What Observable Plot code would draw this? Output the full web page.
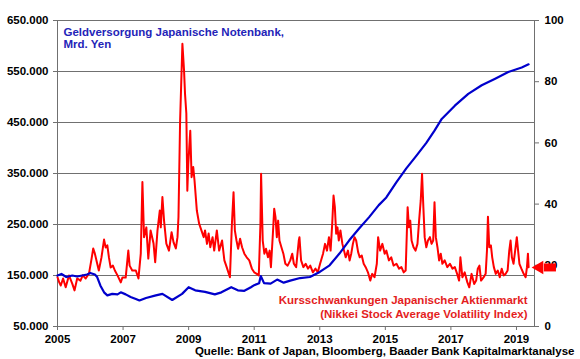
<!DOCTYPE html>
<html><head><meta charset="utf-8">
<script src="https://cdn.jsdelivr.net/npm/d3@7"></script>
<script src="https://cdn.jsdelivr.net/npm/@observablehq/plot@0.6"></script>
<style>
body{margin:0;background:#fff;}
#chart svg{font-family:"Liberation Sans",Arial,sans-serif;}
</style></head><body><div id="chart"></div>
<script>
// Geldversorgung (monetary base), Mrd. Yen — left axis
const baseYears = [2005.00,2005.12,2005.27,2005.45,2005.60,2005.75,2005.90,2006.00,2006.14,2006.21,2006.31,2006.42,2006.52,2006.67,2006.83,2006.93,2007.08,2007.23,2007.39,2007.50,2007.70,2008.00,2008.20,2008.50,2008.80,2009.00,2009.20,2009.50,2009.80,2010.00,2010.30,2010.50,2010.70,2010.90,2011.00,2011.15,2011.20,2011.30,2011.50,2011.70,2011.90,2012.10,2012.40,2012.70,2013.00,2013.30,2013.60,2013.90,2014.20,2014.50,2014.80,2015.03,2015.34,2015.64,2015.95,2016.25,2016.50,2016.72,2017.12,2017.53,2017.94,2018.35,2018.75,2019.16,2019.37];
const baseValues = [150000,153000,147000,150000,148000,150000,152000,155000,152000,147000,130000,117000,111000,114000,113000,117000,113000,108000,104000,101000,106000,111000,114000,102000,114000,127000,121000,118000,113000,117000,127000,121000,120000,127000,131000,135000,149000,135000,134000,142000,136000,140000,145000,147000,157000,170000,193000,219000,242000,264000,288000,303000,333000,360000,385000,410000,434000,457000,483000,506000,523000,536000,549000,558000,564000];

// Nikkei Stock Average Volatility Index — right axis
const vixYears = [2005.00,2005.05,2005.10,2005.17,2005.25,2005.35,2005.45,2005.52,2005.60,2005.70,2005.77,2005.86,2005.96,2006.04,2006.09,2006.14,2006.21,2006.26,2006.34,2006.42,2006.47,2006.52,2006.57,2006.62,2006.69,2006.75,2006.83,2006.93,2006.98,2007.08,2007.16,2007.20,2007.28,2007.39,2007.47,2007.54,2007.59,2007.64,2007.71,2007.77,2007.84,2007.93,2007.98,2008.05,2008.12,2008.15,2008.20,2008.25,2008.32,2008.40,2008.48,2008.54,2008.61,2008.66,2008.69,2008.74,2008.81,2008.86,2008.89,2008.93,2008.96,2008.99,2009.05,2009.09,2009.14,2009.18,2009.25,2009.32,2009.39,2009.46,2009.50,2009.56,2009.61,2009.66,2009.73,2009.78,2009.86,2009.93,2010.02,2010.09,2010.16,2010.26,2010.32,2010.37,2010.41,2010.46,2010.51,2010.57,2010.63,2010.70,2010.77,2010.85,2010.93,2011.00,2011.08,2011.14,2011.19,2011.21,2011.26,2011.31,2011.36,2011.42,2011.47,2011.51,2011.57,2011.61,2011.65,2011.69,2011.73,2011.77,2011.83,2011.89,2011.95,2012.02,2012.10,2012.16,2012.21,2012.28,2012.36,2012.38,2012.43,2012.50,2012.57,2012.64,2012.71,2012.79,2012.87,2012.94,2013.01,2013.10,2013.16,2013.22,2013.28,2013.33,2013.38,2013.42,2013.46,2013.50,2013.54,2013.58,2013.63,2013.69,2013.74,2013.79,2013.86,2013.91,2013.96,2014.01,2014.06,2014.11,2014.17,2014.22,2014.28,2014.34,2014.40,2014.47,2014.54,2014.60,2014.67,2014.74,2014.78,2014.84,2014.91,2014.98,2015.03,2015.11,2015.18,2015.25,2015.34,2015.42,2015.49,2015.56,2015.62,2015.68,2015.72,2015.76,2015.80,2015.86,2015.92,2015.98,2016.03,2016.08,2016.12,2016.16,2016.20,2016.25,2016.30,2016.36,2016.41,2016.46,2016.50,2016.54,2016.59,2016.64,2016.69,2016.74,2016.81,2016.89,2016.97,2017.05,2017.12,2017.19,2017.25,2017.29,2017.35,2017.42,2017.50,2017.56,2017.63,2017.71,2017.77,2017.82,2017.87,2017.92,2018.00,2018.06,2018.10,2018.13,2018.17,2018.22,2018.26,2018.31,2018.37,2018.43,2018.49,2018.55,2018.61,2018.67,2018.73,2018.78,2018.82,2018.86,2018.91,2018.96,2019.01,2019.05,2019.09,2019.15,2019.22,2019.28,2019.32,2019.35,2019.37];
const vixValues = [16.1,14.5,13.4,15.7,12.8,16.7,14.0,11.8,15.7,15.0,16.7,15.7,17.3,22.2,25.5,23.8,20.6,18.3,22.5,28.4,25.8,26.5,22.5,19.3,19.9,18.3,16.7,14.4,16.0,16.0,24.8,19.9,18.3,18.3,15.7,23.8,47.2,29.2,32.4,22.2,31.4,27.1,21.0,31.4,37.9,32.4,42.3,34.6,27.1,24.8,30.8,27.5,25.5,29.2,35.7,67.3,92.4,83.7,76.0,69.6,44.4,53.2,64.0,48.8,52.1,47.7,37.9,33.6,31.4,29.2,31.4,27.0,30.4,25.9,29.2,24.8,31.4,24.8,28.1,21.6,19.4,16.1,33.6,43.9,31.4,28.1,25.4,28.7,25.9,23.8,22.6,21.6,18.9,17.7,17.2,16.7,33.6,49.9,28.1,23.8,25.4,22.6,24.8,19.4,30.3,38.5,35.7,29.2,34.6,28.1,25.9,23.8,20.5,19.9,21.6,23.8,20.5,19.4,28.1,29.2,21.6,19.4,20.5,18.9,19.9,17.7,18.9,17.7,20.5,23.8,27.0,24.8,29.2,24.8,33.6,42.8,39.0,30.3,32.4,28.1,31.4,27.0,24.8,22.6,24.8,21.6,23.8,27.0,29.2,28.1,24.3,22.6,23.2,20.5,19.4,17.7,15.0,17.2,16.1,20.5,29.2,24.8,27.0,23.8,24.8,21.6,22.6,19.9,20.5,18.9,19.4,17.7,18.3,39.0,32.4,34.6,28.1,25.9,24.8,27.0,34.6,41.2,49.9,39.0,29.2,25.9,28.1,29.2,27.0,28.1,40.6,29.2,25.9,21.6,23.8,20.5,21.6,19.4,20.5,18.9,19.4,17.2,15.0,22.6,16.1,17.7,14.5,12.8,17.2,13.9,15.0,18.9,19.9,15.0,16.1,17.2,24.8,35.9,25.9,26.5,22.6,19.4,17.2,18.3,16.1,18.9,16.7,17.2,18.3,24.8,28.1,22.6,20.5,24.8,29.2,24.8,20.5,18.9,17.2,16.1,19.4,23.8,19.4];

const leftTicks = [50000,150000,250000,350000,450000,550000,650000];
const rightTicks = [0,20,40,60,80,100];
const xTicks = [2005,2007,2009,2011,2013,2015,2017,2019];
const xDomain = [2005, 2019.55];

const titleLines = ["Geldversorgung Japanische Notenbank,", "Mrd. Yen"];
const vixLabelLines = ["Kursschwankungen Japanischer Aktienmarkt", "(Nikkei Stock Average Volatility Index)"];
const sourceText = "Quelle: Bank of Japan, Bloomberg, Baader Bank Kapitalmarktanalyse";

// arrow marking the latest volatility level (right-axis units), tip and tail in years
const arrowValue = 19.3;
const arrowTip = 2019.70;
const arrowTail = 2020.22;

// map right-axis values (0..100) onto the left-axis scale (50.000..650.000)
const toLeft = v => 50000 + v * 6000;
const fromLeft = d => Math.round((d - 50000) / 6000);
const fmtLeft = d => d3.format(",")(d).replace(/,/g, ".");

const base = baseYears.map((t, i) => ({t, v: baseValues[i]}));
const vix = vixYears.map((t, i) => ({t, v: toLeft(vixValues[i])}));

const blue = "#0000cc", red = "#ff0000";
const grid = "#707070";

const chart = Plot.plot({
  width: 580, height: 359,
  marginLeft: 57, marginRight: 46, marginTop: 20, marginBottom: 33,
  style: {fontFamily: "'Liberation Sans', Arial, sans-serif", fontSize: "11.5px", fontWeight: "bold", color: "#000", background: "#fff", overflow: "visible"},
  x: {domain: xDomain},
  y: {domain: [leftTicks[0], leftTicks[leftTicks.length - 1]]},
  marks: [
    Plot.ruleY(leftTicks.slice(1), {stroke: grid, strokeWidth: 1}),
    Plot.frame({stroke: grid}),
    Plot.axisY(leftTicks, {anchor: "left", tickFormat: fmtLeft, tickSize: 4, tickPadding: 5, label: null, stroke: grid, fill: "#000"}),
    Plot.axisY(rightTicks.map(toLeft), {anchor: "right", tickFormat: fromLeft, tickSize: 4, tickPadding: 6, label: null, stroke: grid, fill: "#000"}),
    Plot.axisX(xTicks, {anchor: "bottom", tickFormat: d => String(d), tickSize: 4, tickPadding: 4, label: null, stroke: grid, fill: "#000"}),
    Plot.line(vix, {x: "t", y: "v", stroke: red, strokeWidth: 2, strokeLinejoin: "round"}),
    Plot.line(base, {x: "t", y: "v", stroke: blue, strokeWidth: 2.2, strokeLinejoin: "round"}),
    Plot.text([titleLines[0]], {text: d => d, frameAnchor: "top-left", dx: 6, dy: 12, textAnchor: "start", lineAnchor: "middle", fill: "#2424b8", fontSize: 11.5, fontWeight: "bold", letterSpacing: "-0.4px"}),
    Plot.text([titleLines[1]], {text: d => d, frameAnchor: "top-left", dx: 6, dy: 23.5, textAnchor: "start", lineAnchor: "middle", fill: "#2424b8", fontSize: 11.5, fontWeight: "bold", letterSpacing: "-0.4px"}),
    Plot.text([vixLabelLines[0]], {text: d => d, frameAnchor: "bottom-right", dx: -7, dy: -26, textAnchor: "end", lineAnchor: "middle", fill: "#e41e1e", fontSize: 11.5, fontWeight: "bold", letterSpacing: "-0.3px"}),
    Plot.text([vixLabelLines[1]], {text: d => d, frameAnchor: "bottom-right", dx: -7, dy: -12, textAnchor: "end", lineAnchor: "middle", fill: "#e41e1e", fontSize: 11.5, fontWeight: "bold", letterSpacing: "-0.3px"}),
    Plot.text([sourceText], {text: d => d, frameAnchor: "bottom-right", dx: 40, dy: 25, textAnchor: "end", lineAnchor: "middle", fill: "#000", fontSize: 11.5, fontWeight: "bold", letterSpacing: "-0.3px"}),
    Plot.ruleY([arrowValue], {y: toLeft, x1: arrowTip + 0.15, x2: arrowTail, stroke: red, strokeWidth: 8}),
    Plot.dot([arrowValue], {y: toLeft, x: () => arrowTip, symbol: "triangle", rotate: -90, r: 5, fill: red, stroke: "none"})
  ]
});
document.getElementById("chart").appendChild(chart);
</script></body></html>
